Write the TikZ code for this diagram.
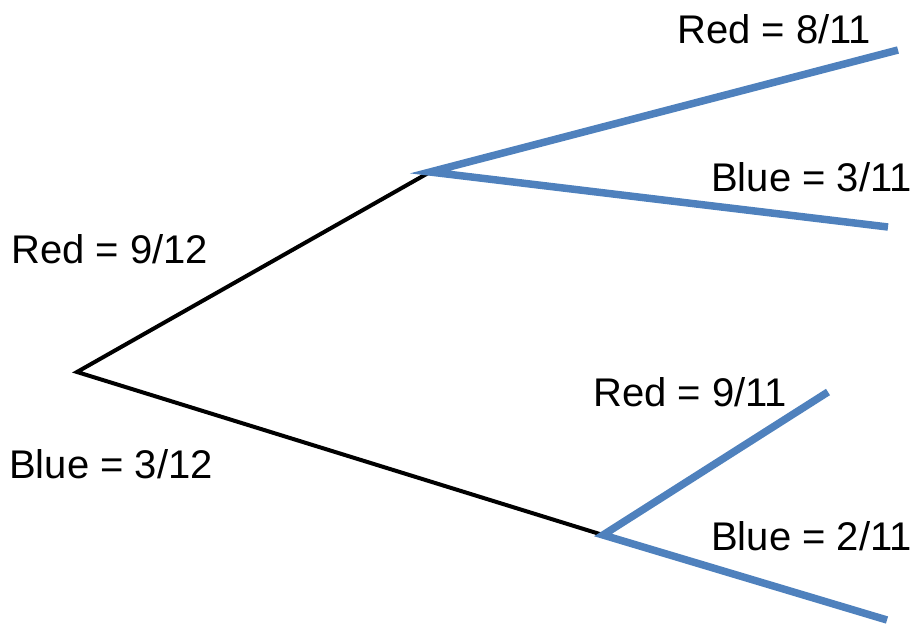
\documentclass[tikz,border=0pt]{standalone}
\usepackage{fontspec}
\setmainfont{Liberation Sans}
\definecolor{branchblue}{HTML}{4F81BD}
\begin{document}
\begin{tikzpicture}[x=1pt,y=-1pt,
  blk/.style={draw=black,line width=4pt},
  blu/.style={draw=branchblue,line width=7.5pt},
  lbl/.style={anchor=base west,inner sep=0pt,font=\fontsize{40}{46}\selectfont}]
\useasboundingbox (0,0) rectangle (914,630);
\coordinate (root) at (77,372);
\coordinate (up) at (430,172);
\coordinate (lo) at (603,535);
\coordinate (uu) at (898,50);
\coordinate (ud) at (888,227);
\coordinate (lu) at (828,392);
\coordinate (ld) at (887,620);
\draw[blk] (up) -- (root) -- (lo);
\draw[blu] (uu) -- (up) -- (ud);
\draw[blu] (lu) -- (lo) -- (ld);
\node[lbl] (l1) at (677,43) {Red = 8/11};
\node[lbl] (l2) at (711,191) {Blue = 3/11};
\node[lbl] (l3) at (11,263) {Red = 9/12};
\node[lbl] (l4) at (9,478) {Blue = 3/12};
\node[lbl] (l5) at (593,406) {Red = 9/11};
\node[lbl] (l6) at (711,550) {Blue = 2/11};
\end{tikzpicture}
\end{document}
